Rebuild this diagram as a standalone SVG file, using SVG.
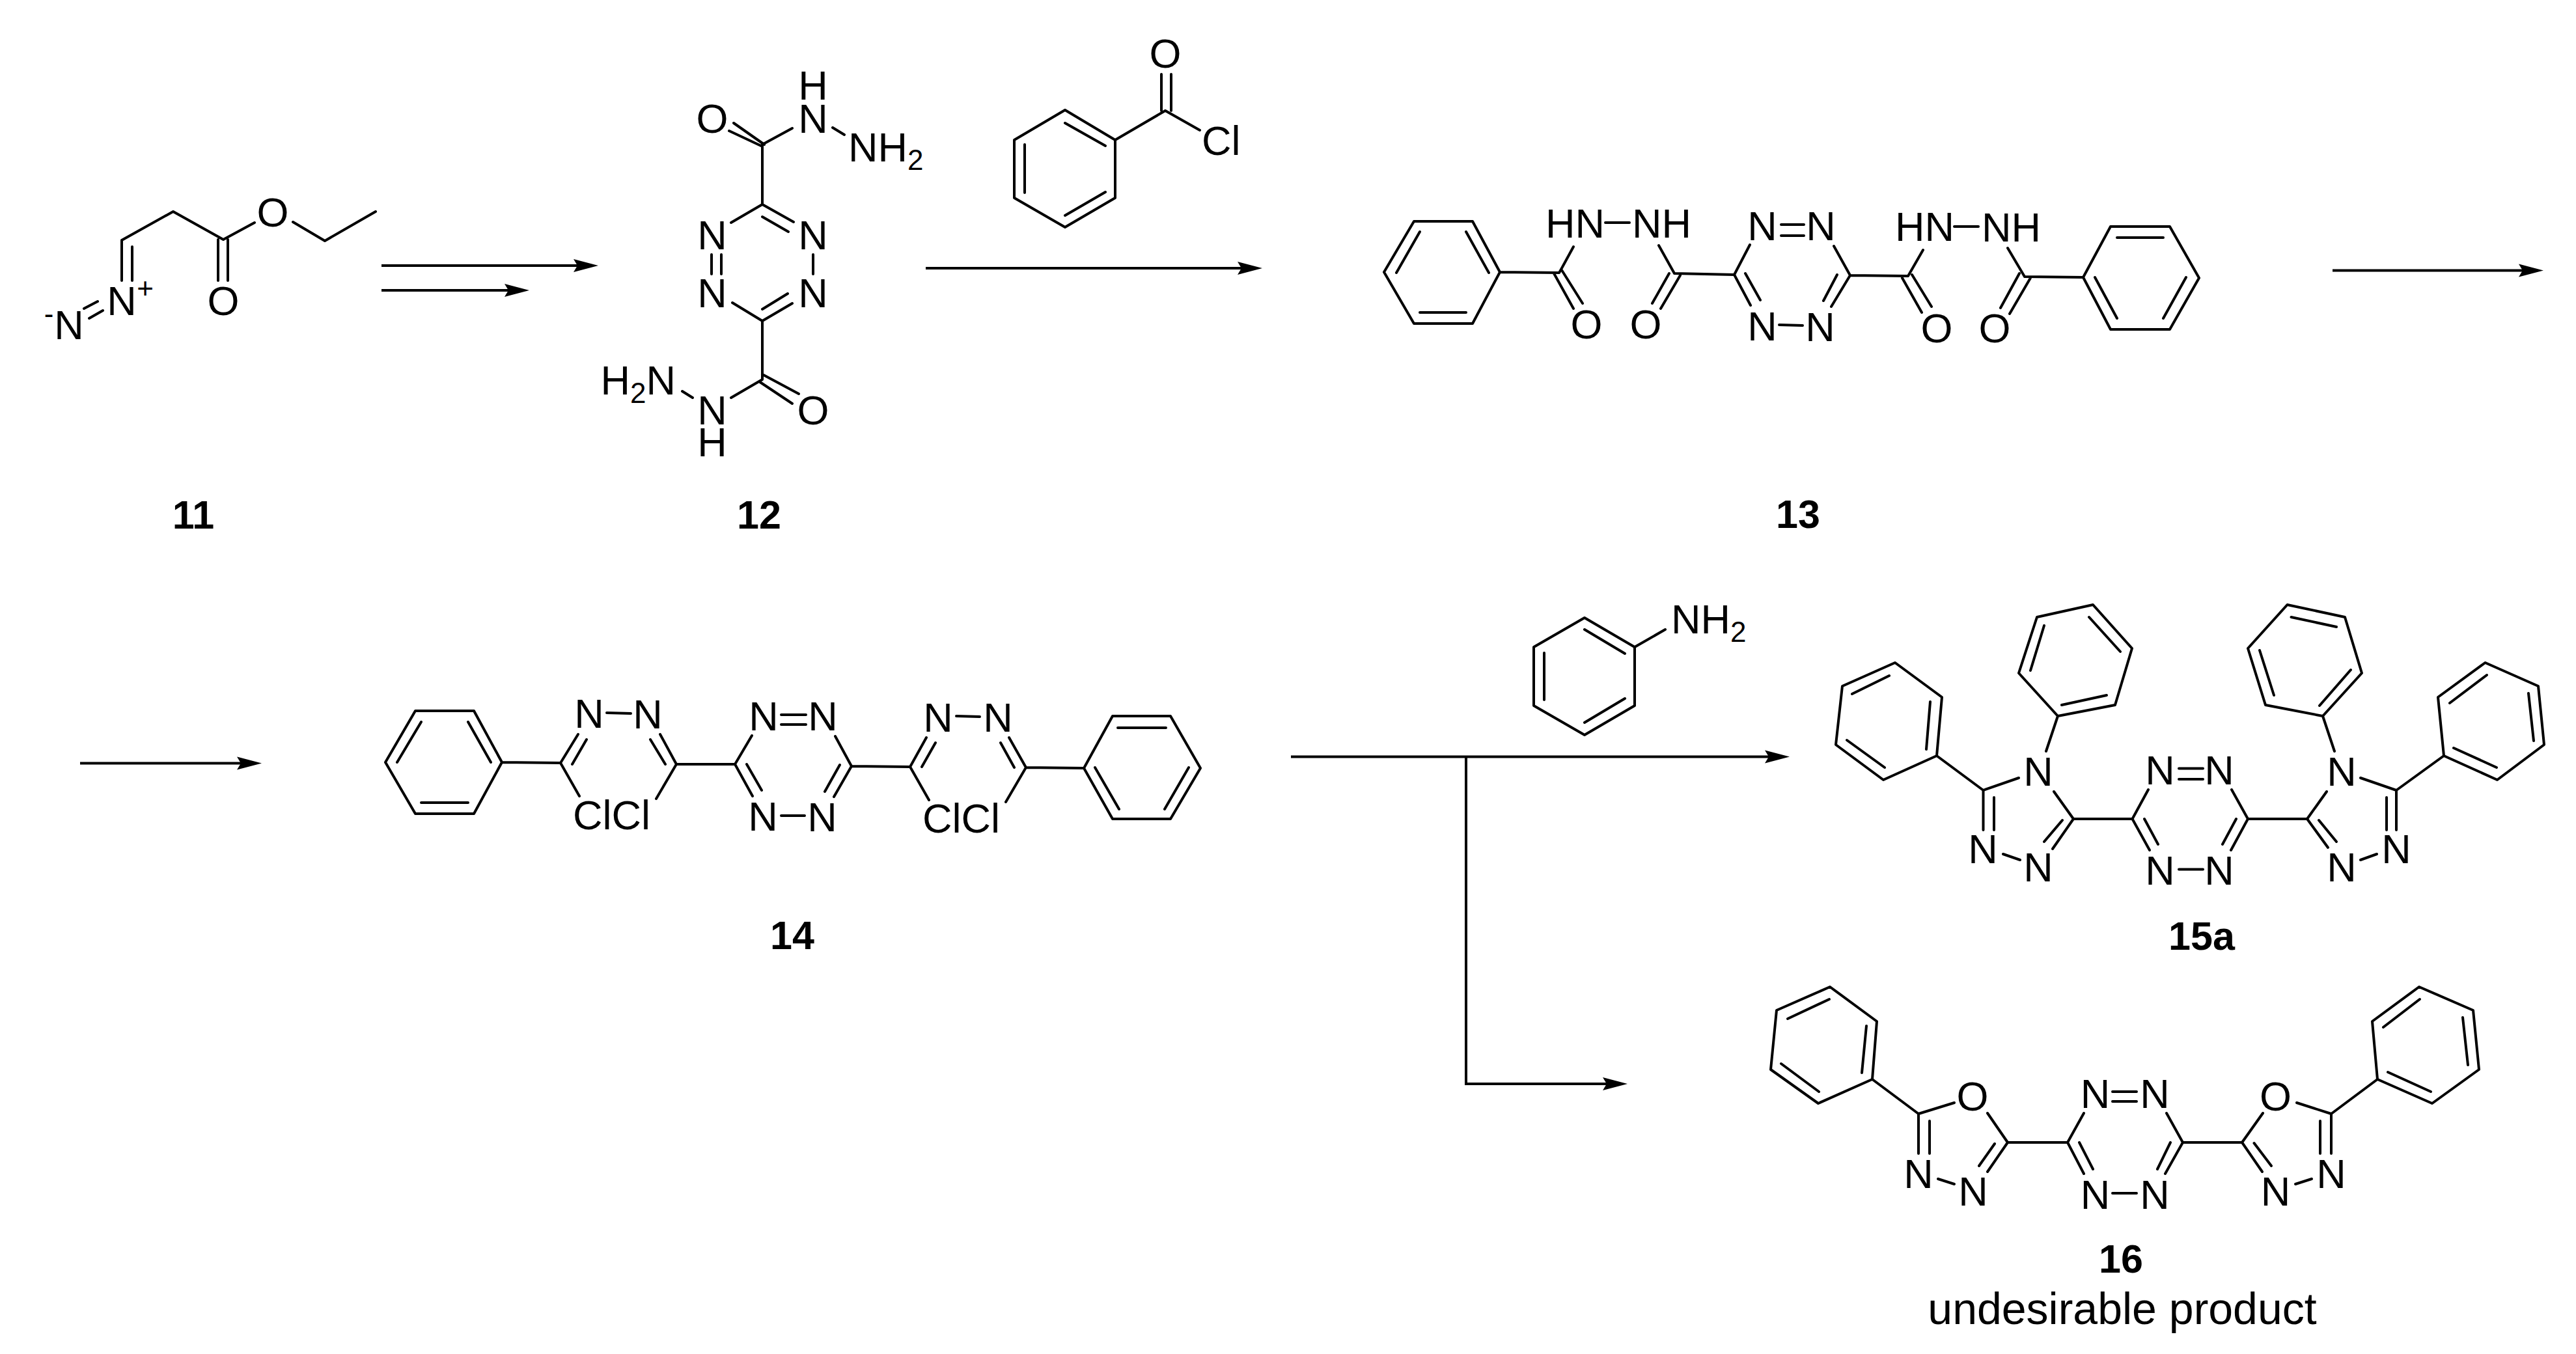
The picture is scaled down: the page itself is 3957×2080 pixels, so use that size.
<svg xmlns="http://www.w3.org/2000/svg" width="3957" height="2080" viewBox="0 0 3957 2080">
<defs>
<style>
.b{fill:none;stroke:#000;stroke-width:4;stroke-linecap:round;stroke-linejoin:round}
.c{fill:none;stroke:#000;stroke-width:4}
text{font-family:"Liberation Sans",Arial,sans-serif;font-size:63px;fill:#000}
.m{text-anchor:middle}
.l{font-weight:bold;text-anchor:middle;font-size:61px}
.s{font-size:44px}
</style>
<marker id="head" markerUnits="userSpaceOnUse" markerWidth="40" markerHeight="24" refX="12" refY="12" orient="auto" viewBox="0 0 40 24"><path d="M0,2 L38,12 L0,22 L6,12Z" fill="#000"/></marker>
</defs>
<rect width="3957" height="2080" fill="#fff"/>
<g id="connectors">
<path class="c" marker-end="url(#head)" d="M586,408H893"/>
<path class="c" marker-end="url(#head)" d="M586,446H787"/>
<path class="c" marker-end="url(#head)" d="M1422,412H1913"/>
<path class="c" marker-end="url(#head)" d="M3583,415.5H3881"/>
<path class="c" marker-end="url(#head)" d="M123,1172.5H376"/>
<path class="c" marker-end="url(#head)" d="M1983,1162.5H2723"/>
<path class="c" d="M2252,1162V1665"/>
<path class="c" marker-end="url(#head)" d="M2250,1665H2474"/>
</g>
<g id="mol-11">
<path class="b" d="M187,369L266,325L343,368L391,342M450,341L499,370L577,325M187,369V431M203,379V431M335,368V431M350,368V431M129,474L150,463M137,489L158,477"/>
<text class="m" x="419" y="348">O</text><text class="m" x="343" y="484">O</text><text class="m" x="187" y="484">N</text><text class="s m" x="223" y="458">+</text><text class="m" x="106" y="521">N</text><text class="s m" x="75" y="497">-</text>
<text class="l" x="297" y="812">11</text>
</g>
<g id="mol-12">
<path class="b" d="M1171,222V314L1123,342M1171,314L1219,341M1171,333L1211,356M1171,222L1217,197M1279,196L1297,207M1174,222L1127,189M1169,224L1120,201M1093,391V421M1108,391V421M1249,391V421M1171,493L1125,465M1171,493L1217,466M1171,475L1210,451M1171,493V583L1123,611M1064,611L1048,601M1171,575L1227,605M1166,586L1217,620"/>
<text class="m" x="1094" y="204">O</text><text class="m" x="1249" y="204">N</text><text class="m" x="1249" y="153">H</text><text x="1303" y="248">NH<tspan class="s" dy="13">2</tspan></text>
<text class="m" x="1094" y="383">N</text><text class="m" x="1249" y="383">N</text><text class="m" x="1094" y="472">N</text><text class="m" x="1249" y="472">N</text>
<text text-anchor="end" x="1038" y="606">H<tspan class="s" dy="13">2</tspan><tspan dy="-13">N</tspan></text>
<text class="m" x="1094" y="652">N</text><text class="m" x="1094" y="701">H</text><text class="m" x="1249" y="652">O</text>
<text class="l" x="1166" y="812">12</text>
</g>
<g id="benzoyl-chloride">
<path class="b" d="M1636,169L1713,215V304L1636,349L1558,304V215ZM1574,222V296M1636,189L1698,224M1636,331L1698,295M1713,215L1790,170L1843,200M1784,170V114M1799,170V114"/>
<text class="m" x="1790" y="104">O</text><text x="1846" y="238">Cl</text>
</g>
<g id="mol-13">
<path class="b" d="M2172,340H2262L2304,418L2262,497H2172L2126,418ZM2181,356L2145,419M2252,356L2287,419M2181,480H2252M2304,418L2395,419L2399,412L2417,379M2387,420L2417,474M2399,415L2431,466M2466,342H2503M2572,420L2548,377M2564,420L2538,466M2581,423L2551,474M2572,420L2664,422L2688,376M2664,422L2689,469M2681,420L2704,461M2842,423L2817,378M2842,423L2813,471M2822,422L2801,462M2736,345H2771M2736,362H2771M2733,499L2769,500M2842,423L2931,424L2954,384M2922,427L2952,480M2937,422L2967,471M3002,348H3039M3110,425L3084,381M3102,420L3073,473M3119,427L3087,482M3110,425L3200,426"/>
<path class="b" d="M3200,426L3242,348H3333L3378,427L3333,506H3242ZM3252,365H3323M3218,426L3252,489M3358,426L3323,489"/>
<text x="2374" y="365">HN</text><text x="2507" y="365">NH</text><text class="m" x="2437" y="520">O</text><text class="m" x="2528" y="520">O</text>
<text class="m" x="2707" y="369">N</text><text class="m" x="2797" y="369">N</text><text class="m" x="2707" y="523">N</text><text class="m" x="2796" y="524">N</text>
<text x="2911" y="370">HN</text><text x="3044" y="371">NH</text><text class="m" x="2975" y="526">O</text><text class="m" x="3064" y="526">O</text>
<text class="l" x="2762" y="811">13</text>
</g>
<g id="mol-14">
<path class="b" d="M592,1171L638,1092H728L771,1171L728,1250H638ZM647,1109L610,1171M719,1109L754,1171M647,1233H719M771,1171L861,1172L888,1128M879,1174L901,1136M932,1095L969,1096M1039,1174L1014,1128M1022,1174L999,1136M861,1172L890,1223M1039,1174L1008,1227M1039,1174H1129L1155,1130M1308,1177L1283,1131M1129,1174L1156,1223M1147,1174L1170,1214M1308,1177L1281,1224M1290,1175L1267,1216M1200,1098H1238M1200,1113H1238M1200,1253H1236M1308,1177L1398,1178L1423,1133M1416,1178L1437,1141M1576,1179L1550,1133M1558,1179L1537,1141M1469,1100L1505,1101M1398,1178L1427,1229M1576,1179L1545,1232M1576,1179L1665,1180"/>
<path class="b" d="M1665,1180L1709,1100H1798L1844,1180L1798,1258H1709ZM1717,1118H1791M1682,1179L1719,1243M1826,1179L1789,1243"/>
<text class="m" x="905" y="1118">N</text><text class="m" x="995" y="1119">N</text><text x="880" y="1274">ClCl</text>
<text class="m" x="1173" y="1121.5">N</text><text class="m" x="1264" y="1122">N</text><text class="m" x="1172" y="1276">N</text><text class="m" x="1263" y="1277">N</text>
<text class="m" x="1441" y="1124">N</text><text class="m" x="1533" y="1124">N</text><text x="1417" y="1279">ClCl</text>
<text class="l" x="1217" y="1458">14</text>
</g>
<g id="aniline">
<path class="b" d="M2434,949L2511,994V1084L2434,1129L2356,1084V994ZM2434,967L2496,1004M2496,1073L2434,1110M2372,1003V1075M2511,994L2558,967"/>
<text x="2567" y="973">NH<tspan class="s" dy="13">2</tspan></text>
</g>
<g id="mol-15a">
<path class="b" d="M2911,1018L2983,1071L2975,1161L2893,1198L2820,1144L2830,1054ZM2902,1038L2845,1066M2965,1078L2959,1151M2895,1179L2837,1137M2975,1161L3046.5,1214L3101,1195M3155,1216L3185,1258M3046.5,1214V1275M3063,1225V1275M3185,1258L3153,1304M3168,1260L3140,1293M3077,1312L3103,1321M3215,929L3275,996L3249,1083L3161,1100L3101,1034L3129,948ZM3209,948L3257,1001M3140,961L3119,1030M3236,1068L3167,1083M3161,1100L3143,1154M3185,1258H3275.5L3300,1213M3453,1258L3428,1213M3275.5,1258L3302,1306M3294,1258L3315,1297M3453,1258L3427,1306M3435,1258L3414,1297M3347,1180.5H3384M3347,1197H3384M3347,1335.5H3384M3453,1258H3544L3574,1216M3626,1195L3681,1214V1275M3666,1225V1275M3544,1258L3576,1302M3562,1260L3589,1293M3626,1321L3651,1312M3681,1214L3754,1161"/>
<path class="b" d="M3754,1161L3745,1071L3817.5,1018L3899,1054L3908,1144L3836,1198ZM3769,1149L3835,1179M3763,1080L3820,1037M3884,1065L3892,1138M3568,1100L3628,1034L3602,948L3513.5,929L3453,996L3480,1083ZM3563,1084L3611,1029M3493,1068L3471,999M3519.5,948L3589,963M3568,1100L3586,1154"/>
<text class="m" x="3131" y="1207">N</text><text class="m" x="3131" y="1354">N</text><text class="m" x="3046" y="1326">N</text>
<text class="m" x="3318" y="1205">N</text><text class="m" x="3409" y="1205">N</text><text class="m" x="3318" y="1359">N</text><text class="m" x="3409" y="1359">N</text>
<text class="m" x="3597" y="1207">N</text><text class="m" x="3597" y="1354">N</text><text class="m" x="3681" y="1326">N</text>
<text class="l" x="3382" y="1459">15a</text>
</g>
<g id="mol-16">
<path class="b" d="M2811,1516L2883,1569L2876,1658L2793,1695L2720,1643L2729,1552ZM2810,1535L2746,1565M2867,1576L2860,1648M2794,1677L2736,1634M2876,1658L2947,1711L3002,1694M3053,1710L3084,1755M2947,1711V1772M2964,1722V1772M3084,1755L3053,1800M3064,1757L3040,1791M2977,1811L3002,1819M3084,1755H3176L3201,1710M3353,1755L3328,1710M3176,1755L3201,1803M3194,1755L3215,1796M3353,1755L3326,1803M3334,1755L3314,1796M3245,1677H3282M3245,1692H3282M3245,1833H3282M3353,1755H3444L3476,1710M3528,1694L3581,1711V1772M3564,1722V1772M3444,1755L3475,1800M3462.5,1756L3489,1791M3526,1819L3551,1811M3581,1711L3652,1658"/>
<path class="b" d="M3652,1658L3644,1569L3716,1516L3799,1552L3808,1643L3736,1695ZM3668,1647L3734,1677M3661,1578L3717,1535M3783,1563L3791,1636"/>
<text class="m" x="3030" y="1706">O</text><text class="m" x="3031" y="1852">N</text><text class="m" x="2947" y="1825">N</text>
<text class="m" x="3218.5" y="1702">N</text><text class="m" x="3310" y="1702">N</text><text class="m" x="3218.5" y="1857">N</text><text class="m" x="3310" y="1857">N</text>
<text class="m" x="3495.5" y="1706">O</text><text class="m" x="3495.5" y="1852">N</text><text class="m" x="3581" y="1825">N</text>
<text class="l" x="3258" y="1955">16</text>
<text class="m" x="3260" y="2034" style="font-size:68px">undesirable product</text>
</g>
</svg>
